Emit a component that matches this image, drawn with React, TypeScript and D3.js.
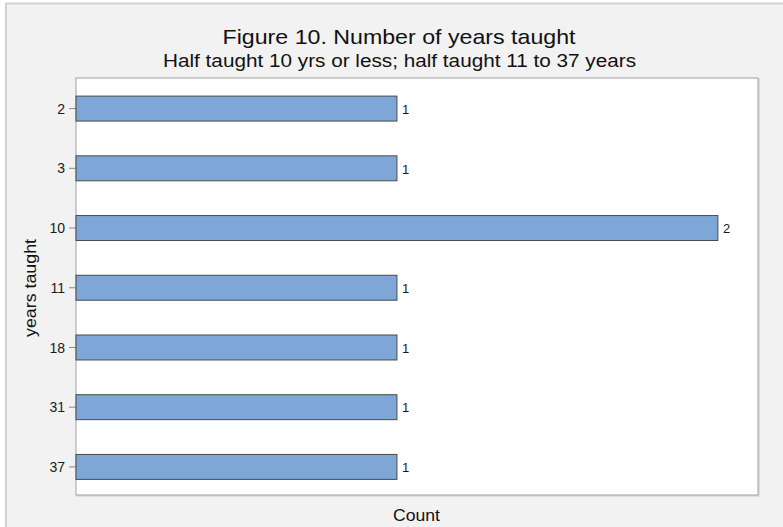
import React, { useEffect } from "react";
import * as d3 from "d3";

const categories = ["2", "3", "10", "11", "18", "31", "37"];
const counts = [1, 1, 2, 1, 1, 1, 1];
const titleText = "Figure 10. Number of years taught";
const subtitleText = "Half taught 10 yrs or less; half taught 11 to 37 years";
const xTitle = "Count";
const yTitle = "years taught";

const W = 783;
const H = 527;
const plot = { left: 76, right: 758, top: 78, bottom: 495 };
const FONT = "'Liberation Sans', Arial, Helvetica, sans-serif";

export default function App() {
  useEffect(() => {
    document.body.style.margin = "0";
  }, []);

  const x = d3.scaleLinear().domain([0, 2.125]).range([plot.left, plot.right]);
  const y = d3
    .scaleBand<string>()
    .domain(categories)
    .range([plot.top + 1.5, plot.bottom + 1])
    .paddingInner(0.582)
    .paddingOuter(0.278);
  const bw = y.bandwidth();

  return (
    <svg width={W} height={H} style={{ display: "block", fontFamily: FONT }}>
      <rect x={0} y={0} width={W} height={H} fill="#ffffff" />
      <rect x={6} y={3.5} width={W + 10} height={H + 10} fill="#f2f2f2" stroke="#d2d2d2" strokeWidth={2} />
      <text
        x={399}
        y={44}
        textAnchor="middle"
        fontSize={21}
        fill="#111"
        textLength={353}
        lengthAdjust="spacingAndGlyphs"
      >
        {titleText}
      </text>
      <text
        x={399.5}
        y={67}
        textAnchor="middle"
        fontSize={17.5}
        fill="#111"
        textLength={473}
        lengthAdjust="spacingAndGlyphs"
      >
        {subtitleText}
      </text>
      {/* plot area */}
      <rect
        x={plot.left + 1}
        y={plot.top + 1}
        width={plot.right - plot.left}
        height={plot.bottom - plot.top}
        fill="none"
        stroke="#d8d8d8"
        strokeWidth={1.5}
      />
      <rect
        x={plot.left}
        y={plot.top}
        width={plot.right - plot.left}
        height={plot.bottom - plot.top}
        fill="#ffffff"
        stroke="#a0a0a0"
        strokeWidth={1}
      />
      {categories.map((c, i) => {
        const yc = (y(c) as number) + bw / 2;
        return (
          <g key={c}>
            <line x1={plot.left - 7} x2={plot.left} y1={yc} y2={yc} stroke="#888" strokeWidth={1} />
            <text x={plot.left - 11} y={yc} dy="0.36em" textAnchor="end" fontSize={14} fill="#1a1a1a">
              {c}
            </text>
            <rect
              x={x(0)}
              y={y(c) as number}
              width={x(counts[i]) - x(0)}
              height={bw}
              fill="#7ea6d7"
              stroke="#4a4a4a"
              strokeWidth={1}
            />
            <text x={x(counts[i]) + 5} y={yc} dy="0.4em" fontSize={13} fill="#1a1a1a">
              {counts[i]}
            </text>
          </g>
        );
      })}
      <text
        x={416.5}
        y={521}
        textAnchor="middle"
        fontSize={16.5}
        fill="#111"
        textLength={47}
        lengthAdjust="spacingAndGlyphs"
      >
        {xTitle}
      </text>
      <text
        transform={`translate(36, 288) rotate(-90)`}
        textAnchor="middle"
        fontSize={17}
        fill="#111"
        textLength={98}
        lengthAdjust="spacingAndGlyphs"
      >
        {yTitle}
      </text>
    </svg>
  );
}
